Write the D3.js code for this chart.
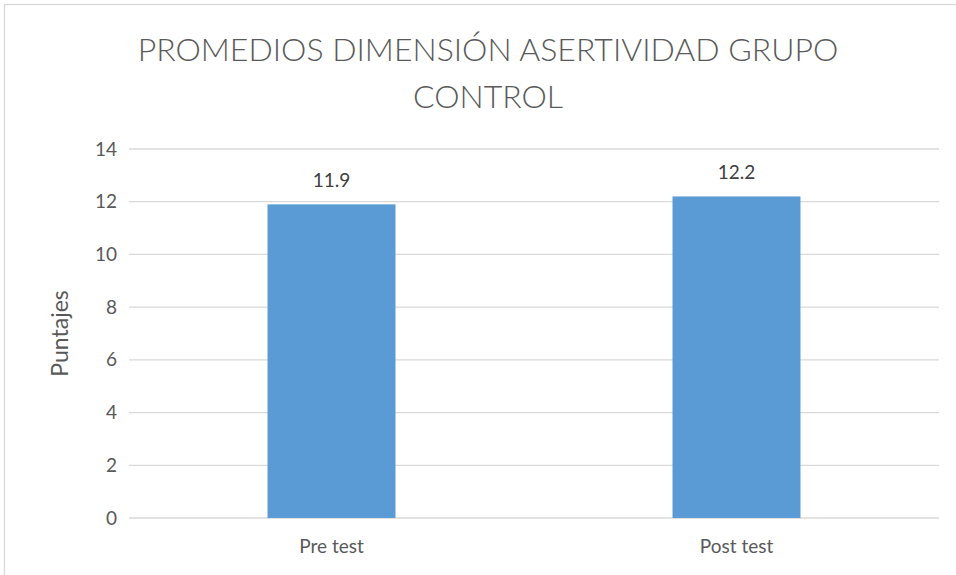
<!DOCTYPE html>
<html lang="es">
<head>
<meta charset="UTF-8">
<title>Promedios</title>
<script src="https://cdn.jsdelivr.net/npm/d3@7"></script>
<style>
	body{margin:0;background:#fff;}
	svg{display:block;font-family:Lato,"Open Sans",sans-serif;}
	.grid line{stroke:#d9d9d9;stroke-width:1.3;}
	.tick text{fill:#595959;font-size:19px;font-family:Lato,"Open Sans",sans-serif;}
</style>
</head>
<body>
<svg id="chart" width="956" height="575"></svg>
<script>
var categories = ["Pre test", "Post test"];
var values = [11.9, 12.2];
var yTicks = [0, 2, 4, 6, 8, 10, 12, 14];
var titleLines = ["PROMEDIOS DIMENSIÓN ASERTIVIDAD GRUPO", "CONTROL"];
var yLabel = "Puntajes";

var svg = d3.select("#chart"),
	plotL = 129, plotR = 939, plotT = 149, plotB = 518;

// chart frame
svg.append("rect")
	.attr("x", 4.5).attr("y", 4.5)
	.attr("width", 960).attr("height", 600)
	.attr("fill", "none").attr("stroke", "#d9d9d9").attr("stroke-width", 1.3);

var x = d3.scaleBand().domain(categories).range([plotL, plotR]).paddingInner(0.684).paddingOuter(0.342);
var y = d3.scaleLinear().domain([0, 14]).range([plotB, plotT]);

// gridlines
svg.append("g").attr("class", "grid")
	.selectAll("line").data(yTicks).enter().append("line")
	.attr("x1", plotL).attr("x2", plotR)
	.attr("y1", function(d){ return y(d); })
	.attr("y2", function(d){ return y(d); });

// y axis labels
var yAxis = svg.append("g")
	.attr("transform", "translate(" + plotL + ",0)")
	.call(d3.axisLeft(y).tickValues(yTicks).tickSize(0).tickPadding(12));
yAxis.select(".domain").remove();

// x axis labels
var xAxis = svg.append("g")
	.attr("transform", "translate(0," + plotB + ")")
	.call(d3.axisBottom(x).tickSize(0).tickPadding(22));
xAxis.select(".domain").remove();

// bars
svg.selectAll(".bar").data(values).enter().append("rect")
	.attr("class", "bar")
	.attr("x", function(d, i){ return x(categories[i]); })
	.attr("width", x.bandwidth())
	.attr("y", function(d){ return y(d); })
	.attr("height", function(d){ return y(0) - y(d); })
	.attr("fill", "#5b9bd5");

// value labels
svg.selectAll(".val").data(values).enter().append("text")
	.attr("class", "val")
	.attr("x", function(d, i){ return x(categories[i]) + x.bandwidth() / 2; })
	.attr("y", function(d){ return y(d) - 17; })
	.attr("text-anchor", "middle")
	.attr("fill", "#404040")
	.style("font-size", "19px")
	.text(function(d){ return d3.format(".1f")(d); });

// title
svg.selectAll(".title").data(titleLines).enter().append("text")
	.attr("class", "title")
	.attr("x", 488)
	.attr("y", function(d, i){ return 61 + i * 47; })
	.attr("text-anchor", "middle")
	.attr("fill", "#595959")
	.style("font-size", "32px")
	.style("font-weight", "300")
	.text(function(d){ return d; });

// y axis title
svg.append("text")
	.attr("transform", "translate(68," + ((plotT + plotB) / 2) + ") rotate(-90)")
	.attr("text-anchor", "middle")
	.attr("fill", "#595959")
	.style("font-size", "23px")
	.text(yLabel);
</script>
</body>
</html>
